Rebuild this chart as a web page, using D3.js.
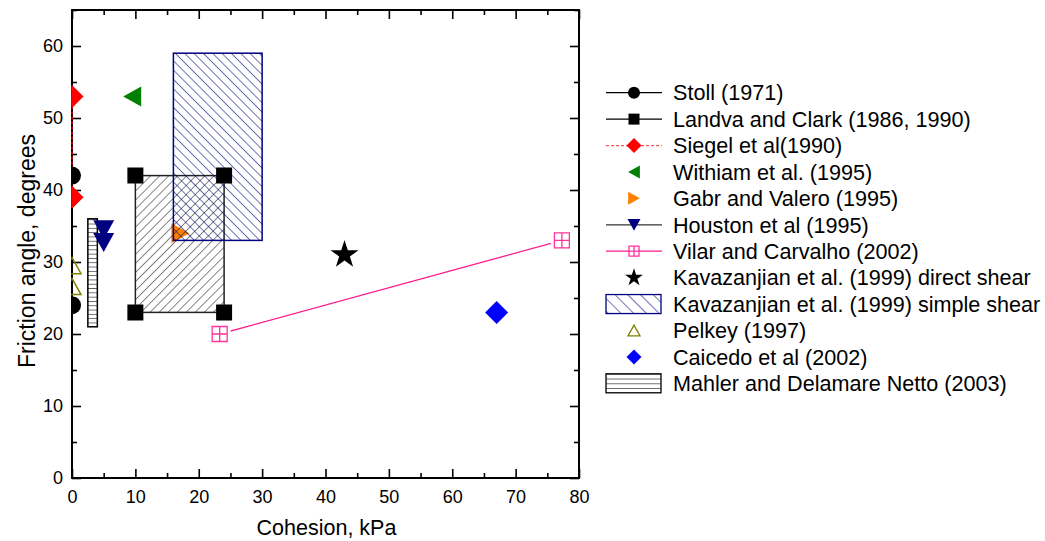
<!DOCTYPE html>
<html>
<head>
<meta charset="utf-8">
<script src="https://cdn.jsdelivr.net/npm/d3@7"></script>
<style>
  body { margin: 0; background: #fff; }
  svg text { font-family: "Liberation Sans", Arial, Helvetica, sans-serif; fill: #000; }
</style>
</head>
<body>
<svg id="chart" width="1045" height="541"></svg>
<script>
// data: [cohesion kPa, friction angle deg]
const stoll = [[0, 42], [0, 24]];
const landva = [[10, 42], [24, 42], [10, 23], [24, 23]];
const siegel = [[0, 53], [0, 39]];
const withiam = [[9.5, 53]];
const gabr = [[17.1, 34]];
const houston = [[5, 34.5], [5, 32.7]];
const vilar = [[23.3, 20], [77.3, 33]];
const kavDirect = [[43, 31]];
const pelkey = [[0, 29.5], [0, 26.6]];
const caicedo = [[67, 23]];
// boxes: [c min, c max, phi min, phi max]
const landvaBox = [10, 24, 23, 42];
const kavSimpleBox = [16, 30, 33, 59];
const mahlerBox = [2.5, 4, 21, 36];

const xMajor = [0, 10, 20, 30, 40, 50, 60, 70, 80];
const xMinor = [5, 15, 25, 35, 45, 55, 65, 75];
const yMajor = [0, 10, 20, 30, 40, 50, 60];
const yMinor = [5, 15, 25, 35, 45, 55, 65];

const legendLabels = [
  'Stoll (1971)',
  'Landva and Clark (1986, 1990)',
  'Siegel et al(1990)',
  'Withiam et al. (1995)',
  'Gabr and Valero (1995)',
  'Houston et al (1995)',
  'Vilar and Carvalho (2002)',
  'Kavazanjian et al. (1999) direct shear',
  'Kavazanjian et al. (1999) simple shear',
  'Pelkey (1997)',
  'Caicedo et al (2002)',
  'Mahler and Delamare Netto (2003)'
];

const margin = { top: 10, left: 72, right: 466, bottom: 63 };
const W = 1045, H = 541;
const svg = d3.select('#chart');
const x = d3.scaleLinear().domain([0, 80]).range([margin.left, W - margin.right]);
const y = d3.scaleLinear().domain([0, 65]).range([H - margin.bottom, margin.top]);

const defs = svg.append('defs');
function hatch(id, color, spacing, angle, width) {
  defs.append('pattern')
    .attr('id', id)
    .attr('patternUnits', 'userSpaceOnUse')
    .attr('width', spacing).attr('height', spacing)
    .attr('patternTransform', `rotate(${angle})`)
    .append('line')
    .attr('x1', 0).attr('y1', 0).attr('x2', 0).attr('y2', spacing)
    .attr('stroke', color).attr('stroke-width', width);
}
hatch('hatchBlack', '#222', 6.4, 45, 1.1);
hatch('hatchBlue', '#000080', 6.6, -45, 1.1);
hatch('hatchBlueLeg', '#000080', 9, -45, 1.1);
hatch('hatchH', '#000', 4.3, 90, 1.1);
hatch('hatchHLeg', '#000', 4.75, 90, 1.1);

defs.append('clipPath').attr('id', 'plotClip')
  .append('rect')
  .attr('x', x(0) - 0.8).attr('y', y(65))
  .attr('width', x(80) - x(0) + 0.8).attr('height', y(0) - y(65));

// marker shapes centered on 0,0
function marker(type, s) {
  const h = s / 2;
  switch (type) {
    case 'circle': return d3.symbol(d3.symbolCircle, Math.PI * h * h)();
    case 'square': return `M${-h},${-h}H${h}V${h}H${-h}Z`;
    case 'diamond': return `M0,${-h}L${h},0L0,${h}L${-h},0Z`;
    case 'left': return `M${-h * 0.9},0L${h * 0.9},${-h}L${h * 0.9},${h}Z`;
    case 'right': return `M${h * 0.9},0L${-h * 0.9},${-h}L${-h * 0.9},${h}Z`;
    case 'down': return `M0,${h * 0.9}L${-h},${-h * 0.9}L${h},${-h * 0.9}Z`;
    case 'up': return `M0,${-h * 0.9}L${-h},${h * 0.9}L${h},${h * 0.9}Z`;
    case 'star': return d3.symbol(d3.symbolStar, s * s * 0.5)();
    case 'boxcross': return `M${-h},${-h}H${h}V${h}H${-h}ZM0,${-h}V${h}M${-h},0H${h}`;
  }
}

// axes (drawn first, data sits on top)
const axes = svg.append('g').attr('class', 'axes');
function tickAxis(gen, vals, size, pos, labels, pad) {
  const a = gen.tickValues(vals).tickSize(size).tickPadding(pad || 0);
  if (!labels) a.tickFormat('');
  const g = axes.append('g').attr('transform', pos).call(a);
  g.select('.domain').remove();
  g.selectAll('line').attr('stroke', '#000').attr('stroke-width', 1.6);
  g.selectAll('text').attr('font-size', 18).attr('fill', '#000')
    .style('font-family', '"Liberation Sans", Arial, sans-serif');
  return g;
}
const posBottom = `translate(0,${y(0)})`, posTop = `translate(0,${y(65)})`;
const posLeft = `translate(${x(0)},0)`, posRight = `translate(${x(80)},0)`;
tickAxis(d3.axisBottom(x), xMajor, -9, posBottom, true, 12);
tickAxis(d3.axisBottom(x), xMinor, -5, posBottom, false);
tickAxis(d3.axisTop(x), xMajor, -9, posTop, false);
tickAxis(d3.axisTop(x), xMinor, -5, posTop, false);
tickAxis(d3.axisLeft(y), yMajor, -9, posLeft, true, 9);
tickAxis(d3.axisLeft(y), yMinor, -5, posLeft, false);
tickAxis(d3.axisRight(y), yMajor, -9, posRight, false);
tickAxis(d3.axisRight(y), yMinor, -5, posRight, false);

axes.append('rect')
  .attr('x', x(0)).attr('y', y(65))
  .attr('width', x(80) - x(0)).attr('height', y(0) - y(65))
  .attr('fill', 'none').attr('stroke', '#000').attr('stroke-width', 2);

svg.append('text')
  .attr('x', (x(0) + x(80)) / 2 + 1).attr('y', 535)
  .attr('text-anchor', 'middle').attr('font-size', 21.5)
  .text('Cohesion, kPa');
svg.append('text')
  .attr('transform', `translate(35,251) rotate(-90)`)
  .attr('text-anchor', 'middle').attr('font-size', 23)
  .text('Friction angle, degrees');

// plot content
const plot = svg.append('g').attr('clip-path', 'url(#plotClip)');

function points(data, type, s, fill, stroke, sw) {
  plot.append('g').selectAll('path')
    .data(data).enter().append('path')
    .attr('transform', d => `translate(${x(d[0])},${y(d[1])})`)
    .attr('d', marker(type, s))
    .attr('fill', fill)
    .attr('stroke', stroke || 'none')
    .attr('stroke-width', sw || 1);
}
function box(b, fill, stroke) {
  plot.append('rect')
    .attr('x', x(b[0])).attr('y', y(b[3]))
    .attr('width', x(b[1]) - x(b[0])).attr('height', y(b[2]) - y(b[3]))
    .attr('fill', fill).attr('stroke', stroke).attr('stroke-width', 1.5);
}
const line = d3.line().x(d => x(d[0])).y(d => y(d[1]));

points(gabr, 'right', 20, '#ff8000');
box(landvaBox, 'url(#hatchBlack)', '#222');
box(kavSimpleBox, 'url(#hatchBlue)', '#000080');
box(mahlerBox, 'url(#hatchH)', '#000');

plot.append('path').datum(siegel).attr('d', line)
  .attr('fill', 'none').attr('stroke', '#ff0000').attr('stroke-width', 1.5)
  .attr('stroke-dasharray', '3,2');
plot.append('path').datum(vilar).attr('d', line)
  .attr('fill', 'none').attr('stroke', '#ff1a8c').attr('stroke-width', 1.3);

points(stoll, 'circle', 18, '#000');
points(landva, 'square', 16, '#000');
points(siegel, 'diamond', 23, '#ff0000');
points(withiam, 'left', 20, '#008000');
points(houston, 'down', 21, '#000080');
points(vilar, 'square', 22, '#fff');
points(vilar, 'boxcross', 15, 'none', '#ff3399', 1.3);
points(kavDirect, 'star', 22, '#000');
points(pelkey, 'up', 18, 'none', '#808000', 1.5);
points(caicedo, 'diamond', 23, '#0000ff');

// legend
const legendTypes = [
  { line: '#000', m: 'circle', s: 12, fill: '#000' },
  { line: '#000', m: 'square', s: 11, fill: '#000' },
  { line: '#ff5555', dash: '3,2', m: 'diamond', s: 15, fill: '#ff0000' },
  { m: 'left', s: 13, fill: '#008000' },
  { m: 'right', s: 13, fill: '#ff8000' },
  { line: '#333', m: 'down', s: 13, fill: '#000080' },
  { line: '#ff1a8c', m: 'boxcross', s: 10, fill: '#fff', stroke: '#ff3399' },
  { m: 'star', s: 14, fill: '#000' },
  { rect: 'url(#hatchBlueLeg)', stroke: '#000080' },
  { m: 'up', s: 12, fill: 'none', stroke: '#808000' },
  { m: 'diamond', s: 15, fill: '#0000ff' },
  { rect: 'url(#hatchHLeg)', stroke: '#000' }
];
const legendY = d3.scalePoint().domain(legendLabels).range([92.7, 383.3]);
const leg = svg.append('g');
const rows = leg.selectAll('g').data(legendLabels).enter().append('g')
  .attr('transform', d => `translate(0,${legendY(d)})`);
rows.each(function (d, i) {
  const r = d3.select(this), t = legendTypes[i];
  if (t.line) {
    r.append('line').attr('x1', 606).attr('x2', 662).attr('y1', 0).attr('y2', 0)
      .attr('stroke', t.line).attr('stroke-width', 1.3)
      .attr('stroke-dasharray', t.dash || null);
  }
  if (t.rect) {
    r.append('rect').attr('x', 606).attr('y', -9.5).attr('width', 55).attr('height', 19)
      .attr('fill', t.rect).attr('stroke', t.stroke).attr('stroke-width', 1.3);
  }
  if (t.m) {
    r.append('path').attr('transform', 'translate(634,0)')
      .attr('d', marker(t.m, t.s))
      .attr('fill', t.fill).attr('stroke', t.stroke || 'none').attr('stroke-width', 1.3);
  }
  r.append('text').attr('x', 673).attr('dy', '0.36em')
    .attr('font-size', 21.6).text(d);
});
</script>
</body>
</html>
